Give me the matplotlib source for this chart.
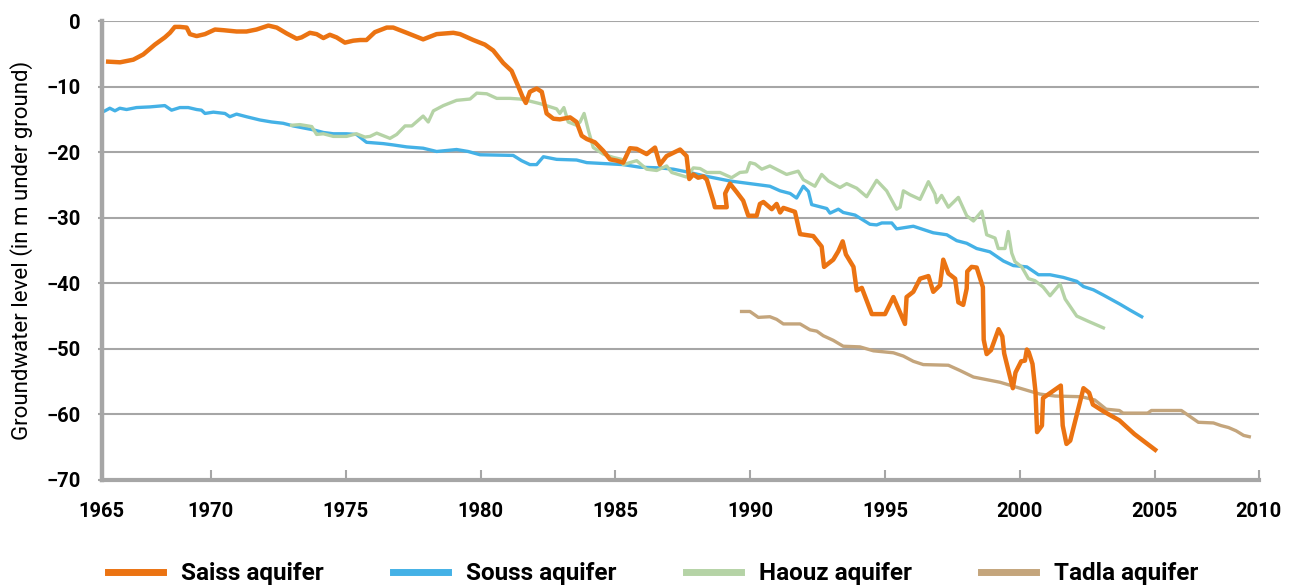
import matplotlib
matplotlib.use("Agg")
import matplotlib.pyplot as plt

plt.rcParams['font.family'] = ['Roboto', 'DejaVu Sans']

# series (year, level in m)
saiss_year = [1966.19, 1966.63, 1967.12, 1967.49, 1967.92, 1968.29, 1968.48, 1968.66, 1968.85, 1969.10,
              1969.22, 1969.47, 1969.78, 1970.15, 1970.46, 1970.95, 1971.32, 1971.69, 1972.13, 1972.44,
              1972.81, 1973.18, 1973.36, 1973.67, 1973.92, 1974.17, 1974.41, 1974.66, 1974.97, 1975.28,
              1975.53, 1975.77, 1976.08, 1976.52, 1976.76, 1977.26, 1977.87, 1978.37, 1978.99, 1979.24,
              1979.73, 1980.16, 1980.47, 1980.84, 1981.15, 1981.40, 1981.55, 1981.68, 1981.83, 1982.08,
              1982.27, 1982.45, 1982.70, 1982.94, 1983.32, 1983.56, 1983.75, 1983.94, 1984.24, 1984.55,
              1984.80, 1985.05, 1985.29, 1985.54, 1985.79, 1986.16, 1986.47, 1986.65, 1986.90, 1987.40,
              1987.64, 1987.74, 1987.89, 1988.07, 1988.26, 1988.39, 1988.63, 1988.69, 1989.13, 1989.07,
              1989.25, 1989.50, 1989.74, 1989.93, 1990.24, 1990.36, 1990.49, 1990.80, 1990.98, 1991.11,
              1991.23, 1991.66, 1991.85, 1992.34, 1992.65, 1992.74, 1993.08, 1993.27, 1993.43, 1993.55,
              1993.83, 1993.95, 1994.14, 1994.51, 1995.00, 1995.31, 1995.74, 1995.80, 1996.05, 1996.30,
              1996.61, 1996.79, 1997.04, 1997.16, 1997.35, 1997.60, 1997.72, 1997.90, 1998.03, 1998.05,
              1998.21, 1998.40, 1998.63, 1998.66, 1998.77, 1998.93, 1999.21, 1999.35, 1999.42, 1999.74,
              1999.84, 2000.05, 2000.19, 2000.26, 2000.33, 2000.47, 2000.58, 2000.64, 2000.82, 2000.86,
              2001.52, 2001.59, 2001.73, 2001.87, 2002.36, 2002.57, 2002.71, 2003.13, 2003.69, 2004.25,
              2005.02]
saiss_level = [-6.2, -6.3, -5.9, -5.1, -3.6, -2.5, -1.8, -0.9, -0.9, -1.0,
               -2.0, -2.3, -2.0, -1.3, -1.4, -1.6, -1.6, -1.3, -0.7, -1.0,
               -1.9, -2.7, -2.5, -1.8, -2.0, -2.6, -2.1, -2.5, -3.3, -3.0,
               -2.9, -2.9, -1.7, -1.0, -1.0, -1.8, -2.8, -2.0, -1.8, -2.0,
               -2.9, -3.6, -4.5, -6.4, -7.6, -10.0, -11.5, -12.5, -10.8, -10.3,
               -10.8, -14.1, -14.9, -15.0, -14.7, -15.4, -17.5, -18.0, -18.5, -19.8,
               -21.1, -21.3, -21.6, -19.4, -19.5, -20.3, -19.3, -21.9, -20.6, -19.6,
               -20.6, -24.1, -23.4, -23.9, -23.7, -24.2, -27.4, -28.4, -28.4, -26.3,
               -24.8, -26.1, -27.4, -29.7, -29.7, -27.9, -27.6, -28.7, -27.9, -29.2,
               -28.5, -29.1, -32.5, -32.8, -34.4, -37.5, -36.4, -35.1, -33.6, -35.6,
               -37.5, -41.1, -40.7, -44.7, -44.7, -42.1, -46.2, -42.1, -41.3, -39.3,
               -38.9, -41.3, -40.3, -36.4, -38.5, -39.3, -42.9, -43.3, -40.8, -38.2,
               -37.5, -37.6, -40.6, -48.6, -50.8, -50.2, -47.0, -48.1, -50.7, -56.0,
               -53.6, -51.9, -51.8, -50.1, -50.5, -52.3, -56.5, -62.7, -61.7, -57.5,
               -55.6, -61.7, -64.5, -64.0, -56.0, -56.7, -58.5, -59.6, -60.9, -63.0,
               -65.4]

souss_year = [1966.07, 1966.25, 1966.44, 1966.62, 1966.87, 1967.24, 1967.74, 1968.29, 1968.54, 1968.85,
              1969.16, 1969.47, 1969.65, 1969.78, 1970.09, 1970.52, 1970.70, 1970.95, 1971.32, 1971.82,
              1972.25, 1972.68, 1973.05, 1973.42, 1973.80, 1974.17, 1974.54, 1975.03, 1975.40, 1975.77,
              1976.39, 1976.76, 1977.26, 1977.87, 1978.37, 1979.11, 1979.54, 1979.98, 1981.21, 1981.52,
              1981.83, 1982.08, 1982.33, 1982.82, 1983.56, 1983.94, 1985.29, 1985.91, 1986.65, 1987.15,
              1987.64, 1988.39, 1989.25, 1989.99, 1990.73, 1991.11, 1991.48, 1991.72, 1991.97, 1992.16,
              1992.28, 1992.84, 1992.96, 1993.27, 1993.45, 1993.89, 1994.44, 1994.69, 1994.88, 1995.25,
              1995.43, 1996.05, 1996.79, 1997.29, 1997.66, 1998.03, 1998.40, 1998.89, 1999.39, 1999.76,
              2000.26, 2000.69, 2001.12, 2001.61, 2002.11, 2002.36, 2002.73, 2003.10, 2003.72, 2004.09,
              2004.52]
souss_level = [-13.7, -13.3, -13.7, -13.3, -13.5, -13.2, -13.1, -12.9, -13.6, -13.2,
               -13.2, -13.5, -13.6, -14.1, -13.9, -14.1, -14.6, -14.2, -14.6, -15.1,
               -15.4, -15.6, -16.0, -16.3, -16.6, -17.0, -17.2, -17.2, -17.3, -18.5,
               -18.7, -18.9, -19.2, -19.4, -19.9, -19.6, -19.9, -20.4, -20.5, -21.3,
               -21.9, -21.9, -20.7, -21.1, -21.2, -21.6, -21.9, -22.3, -22.4, -22.6,
               -23.0, -23.7, -24.4, -24.8, -25.2, -25.9, -26.3, -27.0, -25.2, -26.0,
               -28.0, -28.6, -29.3, -28.7, -29.2, -29.6, -31.0, -31.1, -30.8, -30.8,
               -31.7, -31.3, -32.3, -32.6, -33.5, -33.9, -34.7, -35.2, -36.6, -37.3,
               -37.5, -38.7, -38.7, -39.1, -39.7, -40.5, -41.0, -41.8, -43.2, -44.1,
               -45.1]

haouz_year = [1972.99, 1973.30, 1973.74, 1973.92, 1974.17, 1974.54, 1975.03, 1975.40, 1975.71, 1975.90,
              1976.15, 1976.64, 1976.89, 1977.20, 1977.45, 1977.87, 1978.06, 1978.25, 1978.62, 1979.11,
              1979.61, 1979.86, 1980.23, 1980.60, 1981.09, 1981.46, 1981.71, 1982.20, 1982.82, 1982.94,
              1983.09, 1983.25, 1983.56, 1983.69, 1983.84, 1984.00, 1984.18, 1984.55, 1984.92, 1985.23,
              1985.29, 1985.79, 1986.16, 1986.53, 1986.90, 1987.09, 1987.64, 1987.89, 1988.14, 1988.39,
              1988.88, 1989.31, 1989.62, 1989.87, 1989.99, 1990.18, 1990.43, 1990.73, 1991.35, 1991.78,
              1991.97, 1992.40, 1992.65, 1992.90, 1993.33, 1993.58, 1993.95, 1994.32, 1994.69, 1995.06,
              1995.43, 1995.56, 1995.68, 1995.93, 1996.30, 1996.61, 1996.85, 1996.92, 1997.10, 1997.35,
              1997.72, 1998.03, 1998.28, 1998.59, 1998.77, 1999.08, 1999.20, 1999.45, 1999.57, 1999.70,
              1999.82, 2000.07, 2000.32, 2000.56, 2000.87, 2001.12, 2001.49, 2001.68, 2002.11, 2002.54,
              2003.10]
haouz_level = [-15.9, -15.8, -16.1, -17.3, -17.2, -17.6, -17.6, -17.2, -17.7, -17.6,
               -17.1, -17.9, -17.3, -16.0, -16.0, -14.5, -15.4, -13.7, -12.9, -12.1,
               -11.9, -11.0, -11.1, -11.8, -11.8, -11.9, -12.1, -12.6, -13.4, -14.1,
               -13.2, -15.4, -15.9, -15.4, -14.1, -16.7, -19.3, -20.3, -20.8, -21.1,
               -21.9, -21.3, -22.6, -22.8, -22.1, -23.1, -23.8, -22.4, -22.5, -23.1,
               -23.1, -23.9, -23.1, -23.0, -21.6, -21.8, -22.6, -22.1, -23.4, -22.9,
               -24.2, -25.2, -23.4, -24.4, -25.4, -24.8, -25.5, -26.8, -24.3, -25.9,
               -28.7, -28.4, -25.9, -26.5, -27.2, -24.5, -26.4, -27.7, -26.6, -28.4,
               -26.9, -29.7, -30.5, -29.0, -32.6, -33.1, -34.7, -34.7, -32.1, -35.4,
               -36.7, -37.5, -39.3, -39.6, -40.6, -41.9, -40.1, -42.4, -45.0, -45.8,
               -46.8]

tadla_year = [1989.68, 1989.99, 1990.30, 1990.73, 1990.98, 1991.23, 1991.85, 1992.22, 1992.47, 1992.71,
              1993.08, 1993.45, 1994.07, 1994.57, 1995.31, 1995.68, 1996.05, 1996.42, 1997.35, 1997.78,
              1998.28, 1999.27, 2000.33, 2000.75, 2001.31, 2002.29, 2002.78, 2003.20, 2003.69, 2003.83,
              2004.74, 2004.88, 2005.99, 2006.62, 2007.18, 2007.46, 2007.74, 2008.02, 2008.30, 2008.51]
tadla_level = [-44.3, -44.3, -45.2, -45.1, -45.5, -46.2, -46.2, -47.1, -47.3, -48.0,
               -48.7, -49.6, -49.7, -50.3, -50.6, -51.1, -51.9, -52.4, -52.5, -53.3,
               -54.3, -55.1, -56.4, -56.9, -57.2, -57.3, -57.8, -59.2, -59.4, -59.8,
               -59.8, -59.4, -59.4, -61.2, -61.3, -61.7, -62.0, -62.5, -63.2, -63.4]

year_labels = ['1965', '1970', '1975', '1980', '1985', '1990', '1995', '2000', '2005', '2010']
year_ticks = [1965.95, 1970, 1975, 1980, 1985, 1990, 1995, 2000, 2005, 2008.86]

grey = '#a6a6a6'

fig = plt.figure(figsize=(12.91, 5.85), dpi=100)
ax = fig.add_axes([0.0788, 0.1795, 0.8962, 0.7846])

ax.plot(saiss_year, saiss_level, color='#eb7312', lw=3.2, label='Saiss aquifer', zorder=3)
ax.plot(souss_year, souss_level, color='#44b1e6', lw=2.4, label='Souss aquifer', zorder=2)
ax.plot(haouz_year, haouz_level, color='#b5d3a6', lw=2.4, label='Haouz aquifer', zorder=2)
ax.plot(tadla_year, tadla_level, color='#c4a57c', lw=2.4, label='Tadla aquifer', zorder=2)

ax.set_xlim(year_ticks[0], year_ticks[-1])
ax.set_ylim(-70, 0)
ax.set_xticks(year_ticks)
ax.set_xticklabels(year_labels)
ax.set_yticks(range(-70, 1, 10))

ax.grid(axis='y', color=grey, lw=1.5, zorder=1)
ax.set_axisbelow(True)
for s in ['top', 'right']:
    ax.spines[s].set_visible(False)
ax.spines['left'].set_color(grey)
ax.spines['left'].set_linewidth(3.2)
ax.spines['bottom'].set_color(grey)
ax.spines['bottom'].set_linewidth(3.0)

ax.tick_params(axis='x', direction='in', length=7, width=1.5, color=grey, pad=16,
               labelsize=14.5)
ax.tick_params(axis='y', direction='out', length=3, width=1.5, color=grey, pad=12,
               labelsize=14.5)
for lab in ax.get_xticklabels() + ax.get_yticklabels():
    lab.set_fontweight('bold')

ax.set_ylabel('Groundwater level (in m under ground)', fontsize=16, labelpad=10)

fig.legend(loc='center left', bbox_to_anchor=(108 / 1291, 0.019), ncol=4, frameon=False,
           borderaxespad=0, borderpad=0,
           handlelength=2.26, handletextpad=0.74, columnspacing=2.85,
           prop={'weight': 'bold', 'size': 17.5})
for line in fig.legends[0].get_lines():
    line.set_linewidth(5)

fig.savefig('out.png', dpi=100)
